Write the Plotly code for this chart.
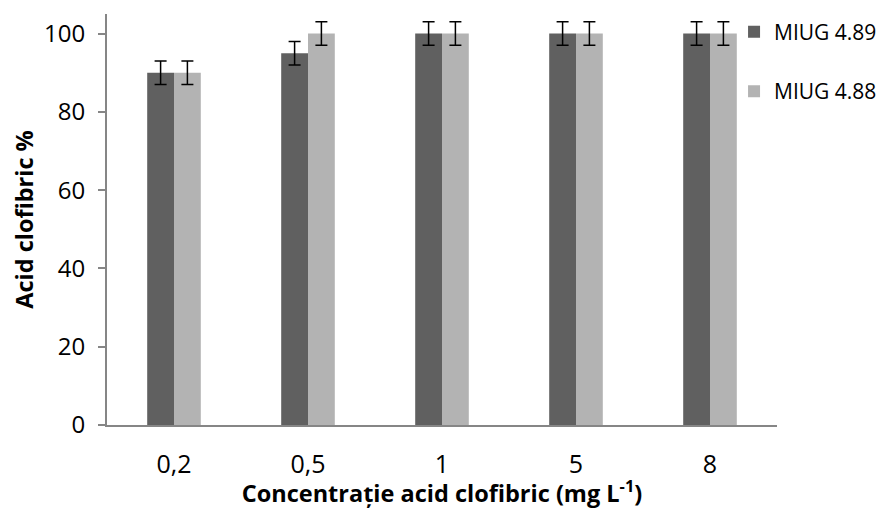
import plotly.graph_objects as go

categories = ["0,2", "0,5", "1", "5", "8"]
miug_489 = [90, 95, 100, 100, 100]
miug_488 = [90, 100, 100, 100, 100]
err_489 = [3, 3, 3, 3, 3]
err_488 = [3, 3, 3, 3, 3]

FONT = "Open Sans"
AXIS_GREY = "#868686"

fig = go.Figure()
fig.add_trace(go.Bar(
    name="MIUG 4.89", x=categories, y=miug_489, legendgroup="a",
    marker=dict(color="#606060", line=dict(width=0)),
    error_y=dict(type="data", array=err_489, visible=True,
                 color="black", thickness=1.5, width=6),
))
fig.add_trace(go.Bar(
    name="MIUG 4.88", x=categories, y=miug_488, legendgroup="b",
    marker=dict(color="#b3b3b3", line=dict(width=0)),
    error_y=dict(type="data", array=err_488, visible=True,
                 color="black", thickness=1.5, width=6),
))

fig.update_layout(
    width=877, height=509,
    margin=dict(l=107, r=100, t=14, b=84, autoexpand=False),
    paper_bgcolor="white", plot_bgcolor="white",
    barmode="group", bargap=0.6, bargroupgap=0,
    font=dict(family=FONT, size=25, color="black"),
    showlegend=True,
    legend=dict(
        x=0.837, y=0.977, xanchor="left", yanchor="top",
        xref="container", yref="container",
        traceorder="grouped", tracegroupgap=29,
        font=dict(family=FONT, size=21, color="black"),
        bgcolor="rgba(0,0,0,0)",
    ),
    xaxis=dict(
        automargin=False,
        showline=True, linecolor=AXIS_GREY, linewidth=2,
        ticks="", showgrid=False,
        tickfont=dict(family=FONT, size=25),
        ticklabelstandoff=16,
        title=dict(
            text="<b>Concentrație acid clofibric (mg L<sup>-1</sup>)</b>",
            font=dict(family=FONT, size=23.5), standoff=8,
        ),
    ),
    yaxis=dict(
        automargin=False,
        range=[0, 105], tickvals=[0, 20, 40, 60, 80, 100],
        showline=True, linecolor=AXIS_GREY, linewidth=2,
        ticks="outside", ticklen=7, tickcolor=AXIS_GREY, tickwidth=1.5,
        showgrid=False, zeroline=False,
        tickfont=dict(family=FONT, size=24),
        ticklabelstandoff=8,
        title=dict(text="<b>Acid clofibric %</b>",
                   font=dict(family=FONT, size=23.5), standoff=4),
    ),
)

fig.write_html("out.html")
